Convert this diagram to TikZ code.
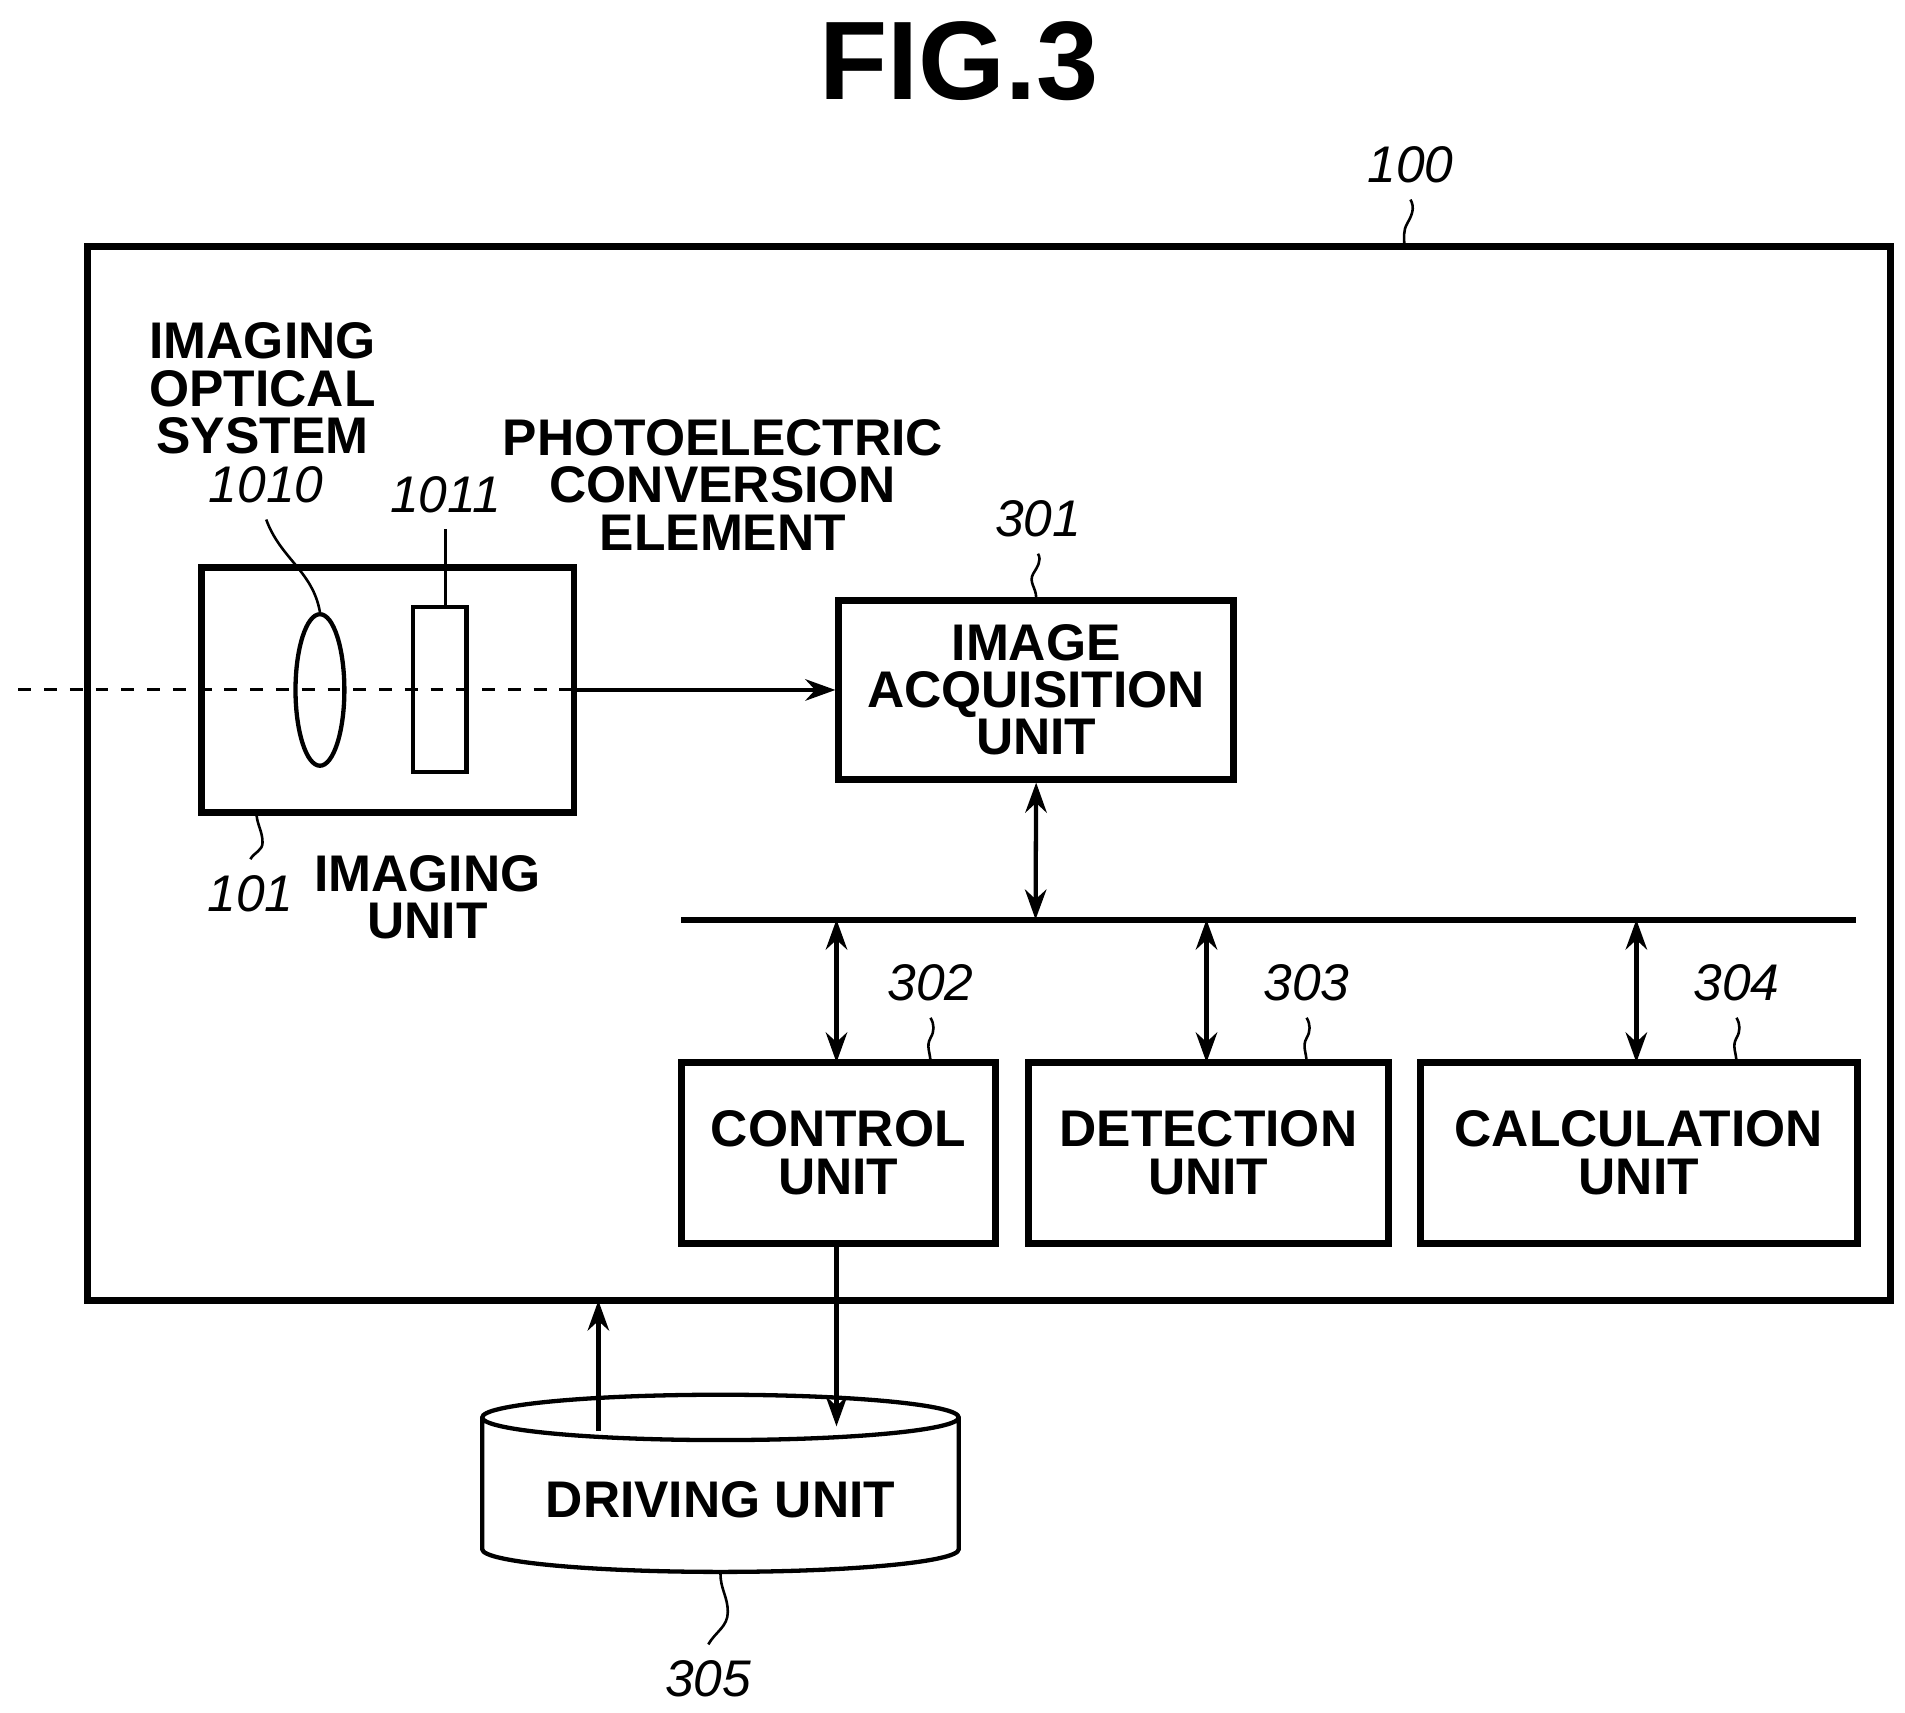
\documentclass[tikz,border=0pt]{standalone}
\usepackage{fontspec}
\setmainfont{Liberation Sans}
\usetikzlibrary{positioning, arrows.meta, calc, shapes.geometric}

\begin{document}
\begin{tikzpicture}[
		x=0.01cm, y=-0.01cm,
		>={Stealth[length=7pt,width=5pt]},
		line width=1pt,
		% Block Styles
		unit_box/.style={rectangle, draw, line width=1.6pt, align=center, font=\fontsize{12}{11}\selectfont\bfseries},
		tag/.style={font=\fontsize{12}{12}\selectfont\itshape},
		caption/.style={align=center, font=\fontsize{12}{11}\selectfont\bfseries},
		% Edge Styles
		bus_edge/.style={<->},
		lead/.style={line width=0.6pt}
		]
		\useasboundingbox (0,0) rectangle (1560,1402);
		
		\node[font=\fontsize{26}{26}\selectfont\bfseries] (Title) at (785,50) {FIG.3};
		
		% --- Frames ---
		\node[unit_box, minimum width=14.76cm, minimum height=8.63cm] (Outer) at (810,633.5) {};
		\node[unit_box, minimum width=3.05cm, minimum height=2cm] (Cam) at (317.5,565) {};
		\node[draw, ellipse, minimum width=0.4cm, minimum height=1.24cm, inner sep=0] (Lens) at (262,565) {};
		\node[draw, rectangle, minimum width=0.44cm, minimum height=1.35cm, inner sep=0] (Sensor) at (360,564.5) {};
		
		% --- Processing Blocks ---
		\node[unit_box, minimum width=3.23cm, minimum height=1.46cm] (Acq) at (848.5,565) {IMAGE\\ACQUISITION\\UNIT};
		\node[unit_box, minimum width=2.57cm, minimum height=1.48cm] (Ctrl) at (686.5,944) {CONTROL\\UNIT};
		\node[unit_box, minimum width=2.95cm, minimum height=1.48cm] (Det) at (989.5,944) {DETECTION\\UNIT};
		\node[unit_box, minimum width=3.58cm, minimum height=1.48cm] (Calc) at (1342,944) {CALCULATION\\UNIT};
		\node[draw, cylinder, shape border rotate=90, aspect=0.12, line width=1pt, minimum width=3.9cm, minimum height=1.45cm,
			font=\fontsize{12}{11}\selectfont\bfseries] (Drive) at (590,1228) {DRIVING UNIT};
		
		% --- Bus ---
		\coordinate (BusL) at (558,753);
		\coordinate (BusR) at (1520,753);
		\draw[line width=1.4pt] (BusL) -- (BusR);
		
		% --- Captions ---
		\node[caption] (CapOpt) at (215,318) {IMAGING\\OPTICAL\\SYSTEM};
		\node[caption] (CapPd) at (592,397) {PHOTOELECTRIC\\CONVERSION\\ELEMENT};
		\node[caption] (CapCam) at (350,735) {IMAGING\\UNIT};
		
		% --- Reference Numerals ---
		\node[tag] (T100) at (1155,135) {100};
		\node[tag] (T1010) at (218,397) {1010};
		\node[tag] (T1011) at (365,405) {1011};
		\node[tag] (T101) at (205,732) {101};
		\node[tag] (T301) at (850,425) {301};
		\node[tag] (T302) at (762,805) {302};
		\node[tag] (T303) at (1070,805) {303};
		\node[tag] (T304) at (1422,805) {304};
		\node[tag] (T305) at (580,1375) {305};
		
		% ================= LEADERS =================
		\draw[lead] (T100.south) to[out=-60,in=60] ($(T100.south)!0.5!(1150,202)$) to[out=240,in=90] (1150,202);
		\draw[lead] (T301.south) to[out=-60,in=60] (846,470) to[out=240,in=90] (Acq.north);
		\draw[lead] (T302.south) to[out=-60,in=60] (762,850) to[out=240,in=90] (762,870);
		\draw[lead] (T303.south) to[out=-60,in=60] (1070,850) to[out=240,in=90] (1070,870);
		\draw[lead] (T304.south) to[out=-60,in=60] (1422,850) to[out=240,in=90] (1422,870);
		\draw[lead] (Drive.bottom) to[out=-90,in=90] (596,1320) to[out=270,in=60] (T305.north);
		\draw[lead] (210,665) to[out=-90,in=90] (215,690) to[out=270,in=60] (T101.north);
		\draw[lead] (T1010.south) to[out=-70,in=100] (Lens.north);
		\draw[lead] (T1011.south) -- (Sensor.north -| T1011.south);
		
		% ================= SIGNALS =================
		\draw[dashed, line width=0.7pt] (15,565) -- (Cam.east);
		\draw[->] (Cam.east) -- (Acq.west);
		\draw[bus_edge] (Acq.south) -- (848,753);
		\draw[bus_edge] (685,753) -- (685,870);
		\draw[bus_edge] (988,753) -- (988,870);
		\draw[bus_edge] (1340,753) -- (1340,870);
		\draw[->] (685,1018) -- (685,1168);
		\draw[->] (490,1172) -- (490,1065);
	\end{tikzpicture}
\end{document}
